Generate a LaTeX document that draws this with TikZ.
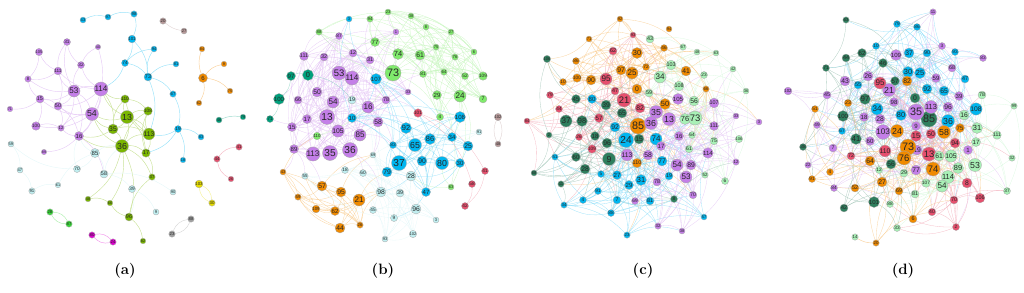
\documentclass[tikz,border=0pt]{standalone}
\usepackage{fontspec}
\setsansfont{Liberation Sans}
\usetikzlibrary{backgrounds}
\definecolor{pu}{HTML}{C47FE8}
\definecolor{li}{HTML}{7AB600}
\definecolor{bl}{HTML}{00B6F0}
\definecolor{or}{HTML}{F08A00}
\definecolor{tl}{HTML}{00A07C}
\definecolor{dg}{HTML}{2F7F5E}
\definecolor{lg}{HTML}{80EA6C}
\definecolor{pg}{HTML}{A8F0B6}
\definecolor{pc}{HTML}{C0EEF0}
\definecolor{rd}{HTML}{E6506E}
\definecolor{br}{HTML}{B89A9A}
\definecolor{ye}{HTML}{E6DC00}
\definecolor{gy}{HTML}{A0A0A0}
\definecolor{mg}{HTML}{DE00D0}
\definecolor{gr}{HTML}{36D636}
\tikzset{
  vx/.style={circle, draw=black!35, line width=0.3pt, inner sep=0pt, text=black!85},
  ed/.style={draw=#1!40, line width=0.45pt},
  edd/.style={draw=#1!50, line width=0.3pt, draw opacity=0.75},
  captxt/.style={font=\bfseries\fontsize{15}{15}\selectfont}
}
\newcount\hcnt
\newcommand\nd[7]{%
  \pgfmathsetmacro\fsz{1.35*#5}%
  \node[vx, fill=#7, minimum size={2*#5pt}, font=\sffamily\fontsize{\fsz}{\fsz}\selectfont] (#1#2) at (#3,#4) {#6};%
  \expandafter\xdef\csname X#1#2\endcsname{#3}%
  \expandafter\xdef\csname Y#1#2\endcsname{#4}%
  \expandafter\xdef\csname C#1#2\endcsname{#7}%
}
\newcommand\autoedges[6]{%
 \foreach \i in {1,...,#2}{%
  \foreach \j in {\i,...,#2}{%
   \ifnum\i<\j\relax
    \edef\hx{\the\numexpr \i*\i*13+\j*\j*7+\i*\j*11+\i*3+\j*5\relax}%
    \hcnt=\hx\relax \divide\hcnt by 61 \multiply\hcnt by 61
    \edef\hh{\the\numexpr\hx-\hcnt\relax}%
    \ifnum\hh<#4\relax
     \pgfmathsetmacro\dd{veclen(\csname X#1\i\endcsname-\csname X#1\j\endcsname,\csname Y#1\i\endcsname-\csname Y#1\j\endcsname)}%
     \edef\ca{\csname C#1\i\endcsname}\edef\cb{\csname C#1\j\endcsname}%
     \def\dodraw{0}%
     \ifx\ca\cb \ifdim\dd pt<#3pt \def\dodraw{1}\fi\fi
     \ifnum\hh<#6\relax \ifdim\dd pt<#5pt \def\dodraw{1}\fi\fi
     \if1\dodraw \draw[edd=\ca] (#1\i) to[bend left=20] (#1\j);\fi
    \fi
   \fi}}}
\begin{document}
\begin{tikzpicture}[x=1pt,y=-1pt]
\useasboundingbox (0,0) rectangle (1024,292);
% ================= panel (a)
\nd{a}{53}{74}{91}{6}{53}{pu}
\nd{a}{114}{101}{89}{6}{114}{pu}
\nd{a}{54}{92}{114}{6.5}{54}{pu}
\nd{a}{15}{40}{99}{4}{15}{pu}
\nd{a}{50}{58}{106}{4}{50}{pu}
\nd{a}{16}{79}{136}{4.5}{16}{pu}
\nd{a}{111}{58}{71}{3.5}{111}{pu}
\nd{a}{32}{81}{65}{3.5}{32}{pu}
\nd{a}{31}{67}{42}{3.5}{31}{pu}
\nd{a}{105}{39}{52}{3}{105}{pu}
\nd{a}{40}{98}{47}{2.7}{40}{pu}
\nd{a}{8}{28}{79}{3.2}{8}{pu}
\nd{a}{71}{10}{109}{2.8}{71}{pu}
\nd{a}{12}{61}{128}{3.2}{12}{pu}
\nd{a}{100}{36}{126}{3.5}{100}{pu}
\nd{a}{89}{44}{152}{2.7}{89}{pu}
\nd{a}{43}{83}{20}{3}{43}{bl}
\nd{a}{97}{108}{17}{3}{97}{bl}
\nd{a}{98}{134}{14}{3.2}{98}{bl}
\nd{a}{101}{132}{39}{3.2}{101}{bl}
\nd{a}{94}{154}{49}{3}{94}{bl}
\nd{a}{74}{125}{63}{3.5}{74}{bl}
\nd{a}{73}{148}{77}{4}{73}{bl}
\nd{a}{81}{176}{64}{3}{81}{bl}
\nd{a}{67}{173}{94}{3.2}{67}{bl}
\nd{a}{19}{178}{129}{3.5}{19}{bl}
\nd{a}{83}{201}{137}{3}{83}{bl}
\nd{a}{18}{183}{160}{2.8}{18}{bl}
\nd{a}{20}{163}{21}{3.2}{20}{br}
\nd{a}{27}{184}{31}{3}{27}{br}
\nd{a}{6}{203}{78}{4.5}{6}{or}
\nd{a}{84}{202}{49}{2.8}{84}{or}
\nd{a}{9}{224}{64}{2.8}{9}{or}
\nd{a}{75}{230}{91}{2.8}{75}{or}
\nd{a}{62}{199}{103}{2.8}{62}{or}
\nd{a}{46}{219}{120}{3}{46}{tl}
\nd{a}{79}{243}{117}{2.8}{79}{tl}
\nd{a}{41}{239}{147}{3.2}{41}{rd}
\nd{a}{44}{217}{159}{3.2}{44}{rd}
\nd{a}{26}{231}{179}{2.8}{26}{rd}
\nd{a}{103}{199}{184}{3.2}{103}{ye}
\nd{a}{30}{212}{203}{3.2}{30}{ye}
\nd{a}{88}{191}{219}{3.2}{88}{gy}
\nd{a}{23}{172}{234}{3.2}{23}{gy}
\nd{a}{28}{50}{212}{3.2}{28}{gr}
\nd{a}{87}{69}{224}{3.2}{87}{gr}
\nd{a}{80}{92}{235}{3.2}{80}{mg}
\nd{a}{24}{113}{242}{3.2}{24}{mg}
\nd{a}{13}{127}{117}{6.5}{13}{li}
\nd{a}{35}{113}{129}{5}{35}{li}
\nd{a}{36}{122}{146}{6.5}{36}{li}
\nd{a}{113}{149}{134}{5}{113}{li}
\nd{a}{17}{146}{153}{4.2}{17}{li}
\nd{a}{110}{125}{99}{3.5}{110}{li}
\nd{a}{108}{148}{111}{3.5}{108}{li}
\nd{a}{37}{152}{177}{3.2}{37}{li}
\nd{a}{48}{88}{199}{2.8}{48}{li}
\nd{a}{66}{110}{203}{2.8}{66}{li}
\nd{a}{96}{129}{217}{4}{96}{li}
\nd{a}{82}{143}{241}{2.8}{82}{li}
\nd{a}{85}{95}{153}{4.5}{85}{pc}
\nd{a}{58}{104}{174}{4}{58}{pc}
\nd{a}{70}{77}{169}{3.5}{70}{pc}
\nd{a}{59}{11}{144}{3}{59}{pc}
\nd{a}{47}{20}{170}{3}{47}{pc}
\nd{a}{91}{32}{191}{3.2}{91}{pc}
\nd{a}{61}{58}{185}{2.8}{61}{pc}
\nd{a}{39}{132}{189}{3.5}{39}{pc}
\nd{a}{90}{173}{192}{3}{90}{pc}
\nd{a}{9p}{156}{212}{3}{9}{pc}
\begin{scope}[on background layer]
\foreach \u/\v in {53/114,53/54,53/15,53/50,53/111,53/32,53/8,53/16,53/12,53/31,114/54,114/50,114/16,114/32,114/111,54/15,54/16,54/50,54/100,15/8,15/71,15/50,15/100,50/12,50/16,111/31,111/105,111/8,32/31,32/40,105/8,16/12,16/89,40/54,100/12,16/58,111/50,12/54}
  \draw[ed=pu] (a\u) to[bend left=20] (a\v);
\foreach \u/\v in {13/35,13/36,13/113,13/110,13/108,13/17,13/114,35/36,35/110,35/113,36/113,36/17,36/108,36/37,36/96,36/48,36/54,113/108,113/17,110/108,17/37,96/66,96/82,96/37,48/66,35/16,110/114,35/54,36/16,13/54,36/66,114/35,113/110,17/108}
  \draw[ed=li] (a\u) to[bend left=20] (a\v);
\foreach \u/\v in {43/97,97/98,98/101,101/73,74/94,74/73,73/94,73/81,73/67,67/19,19/83,19/18,19/113,73/113,74/114,19/17,101/74}
  \draw[ed=bl] (a\u) to[bend left=20] (a\v);
\foreach \u/\v in {6/84,6/9,6/75,6/62}
  \draw[ed=or] (a\u) to[bend left=20] (a\v);
\foreach \u/\v in {85/70,85/58,85/16,58/39,58/90,70/59,59/47,47/91,91/61,39/9p,85/36,39/96,58/36,70/16,61/85}
  \draw[ed=pc] (a\u) to[bend left=20] (a\v);
\draw[ed=tl] (a46) to[bend left=15] (a79);
\draw[ed=rd] (a41) to[bend right=25] (a44);
\draw[ed=rd] (a44) to[bend right=25] (a26);
\draw[ed=br] (a20) to[bend right=15] (a27);
\foreach \u/\v/\c in {88/23/gy,103/30/ye,28/87/gr,80/24/mg}{
  \draw[ed=\c] (a\u) to[bend left=30] (a\v);
  \draw[ed=\c] (a\u) to[bend right=30] (a\v);}
\end{scope}
% ================= panel (b)
\nd{b}{1}{339}{73}{7}{53}{pu}
\nd{b}{2}{352}{78}{6}{114}{pu}
\nd{b}{3}{333}{102}{6}{54}{pu}
\nd{b}{4}{327}{117}{7.5}{13}{pu}
\nd{b}{5}{330}{153}{7.5}{35}{pu}
\nd{b}{6}{350}{150}{7.5}{36}{pu}
\nd{b}{7}{313}{154}{6}{113}{pu}
\nd{b}{8}{360}{135}{6}{85}{pu}
\nd{b}{9}{338}{131}{5}{105}{pu}
\nd{b}{10}{368}{107}{6}{16}{pu}
\nd{b}{11}{378}{122}{5}{58}{pu}
\nd{b}{12}{317}{92}{5}{50}{pu}
\nd{b}{13}{307}{119}{4.5}{17}{pu}
\nd{b}{14}{292}{127}{4.5}{15}{pu}
\nd{b}{15}{294}{149}{4.5}{89}{pu}
\nd{b}{16}{298}{100}{4}{66}{pu}
\nd{b}{17}{304}{56}{4}{111}{pu}
\nd{b}{18}{324}{57}{4}{32}{pu}
\nd{b}{19}{353}{53}{4}{12}{pu}
\nd{b}{20}{370}{60}{4}{31}{pu}
\nd{b}{21}{339}{36}{3.5}{87}{pu}
\nd{b}{22}{386}{100}{4}{78}{pu}
\nd{b}{23}{408}{92}{3}{33}{pu}
\nd{b}{24}{396}{32}{3}{1}{pu}
\nd{b}{25}{291}{76}{4.5}{97}{tl}
\nd{b}{26}{308}{75}{5.5}{0}{tl}
\nd{b}{27}{279}{99}{4.5}{100}{tl}
\nd{b}{28}{270}{119}{3.5}{71}{tl}
\nd{b}{29}{322}{186}{5}{57}{or}
\nd{b}{30}{341}{192}{5}{95}{or}
\nd{b}{31}{359}{200}{6}{21}{or}
\nd{b}{32}{335}{211}{4.5}{62}{or}
\nd{b}{33}{340}{228}{5}{44}{or}
\nd{b}{34}{283}{172}{3}{43}{or}
\nd{b}{35}{298}{197}{3.2}{59}{or}
\nd{b}{36}{316}{209}{3.2}{109}{or}
\nd{b}{37}{360}{225}{3.2}{26}{or}
\nd{b}{38}{393}{73}{8}{73}{lg}
\nd{b}{39}{398}{54}{5.5}{74}{lg}
\nd{b}{40}{375}{42}{4.5}{77}{lg}
\nd{b}{41}{420}{55}{5}{61}{lg}
\nd{b}{42}{460}{96}{6}{24}{lg}
\nd{b}{43}{437}{95}{4.5}{29}{lg}
\nd{b}{44}{483}{99}{4}{7}{lg}
\nd{b}{45}{440}{117}{3.5}{4}{lg}
\nd{b}{46}{319}{32}{3.2}{88}{lg}
\nd{b}{47}{370}{19}{3.2}{94}{lg}
\nd{b}{48}{388}{12}{3}{23}{lg}
\nd{b}{49}{411}{16}{3}{38}{lg}
\nd{b}{50}{426}{27}{3}{8}{lg}
\nd{b}{51}{451}{32}{3}{27}{lg}
\nd{b}{52}{436}{47}{3}{75}{lg}
\nd{b}{53}{455}{57}{3.2}{76}{lg}
\nd{b}{54}{474}{52}{3}{6}{lg}
\nd{b}{55}{423}{74}{3.5}{81}{lg}
\nd{b}{56}{444}{72}{3.2}{64}{lg}
\nd{b}{57}{465}{76}{3.5}{52}{lg}
\nd{b}{58}{483}{76}{3.5}{109}{lg}
\nd{b}{59}{317}{136}{3.2}{110}{lg}
\nd{b}{60}{451}{187}{3}{63}{lg}
\nd{b}{61}{376}{79}{4.5}{107}{bl}
\nd{b}{62}{352}{118}{4.5}{10}{bl}
\nd{b}{63}{406}{128}{5.5}{92}{bl}
\nd{b}{64}{415}{145}{6.5}{65}{bl}
\nd{b}{65}{430}{139}{5.5}{86}{bl}
\nd{b}{66}{399}{163}{7.5}{37}{bl}
\nd{b}{67}{422}{161}{5}{90}{bl}
\nd{b}{68}{442}{163}{6.5}{80}{bl}
\nd{b}{69}{387}{172}{5}{79}{bl}
\nd{b}{70}{393}{145}{3.5}{83}{bl}
\nd{b}{71}{452}{137}{4.5}{34}{bl}
\nd{b}{72}{468}{146}{5}{25}{bl}
\nd{b}{73}{460}{163}{4.5}{30}{bl}
\nd{b}{74}{426}{192}{4.5}{47}{bl}
\nd{b}{75}{460}{117}{4.5}{108}{bl}
\nd{b}{76}{349}{19}{3}{3}{bl}
\nd{b}{77}{352}{100}{4}{19}{pc}
\nd{b}{78}{345}{170}{3.5}{18}{pc}
\nd{b}{79}{363}{173}{3.5}{60}{pc}
\nd{b}{80}{373}{155}{3}{69}{pc}
\nd{b}{81}{411}{176}{5}{28}{pc}
\nd{b}{82}{381}{192}{5}{98}{pc}
\nd{b}{83}{400}{193}{4}{39}{pc}
\nd{b}{84}{416}{209}{5}{96}{pc}
\nd{b}{85}{373}{210}{3.5}{45}{pc}
\nd{b}{86}{394}{218}{3.5}{9}{pc}
\nd{b}{87}{436}{220}{3}{3}{pc}
\nd{b}{88}{413}{234}{3}{102}{pc}
\nd{b}{89}{385}{239}{3}{93}{pc}
\nd{b}{90}{305}{176}{3.2}{55}{pc}
\nd{b}{91}{479}{132}{3}{91}{pc}
\nd{b}{92}{418}{113}{3.5}{101}{rd}
\nd{b}{93}{485}{171}{3.5}{41}{rd}
\nd{b}{94}{472}{184}{3.5}{58}{rd}
\nd{b}{95}{465}{206}{3.5}{42}{rd}
\nd{b}{96}{498}{117}{3}{102}{br}
\nd{b}{97}{498}{144}{3}{48}{br}
\begin{scope}[on background layer]
\autoedges{b}{95}{115}{36}{60}{7}
\draw[ed=br] (b96) to[bend left=25] (b97);
\draw[ed=br] (b96) to[bend right=25] (b97);
\end{scope}
% ================= panel (c)
\nd{c}{1}{638}{126}{8}{85}{or}
\nd{c}{2}{632}{73}{6}{25}{or}
\nd{c}{3}{621}{70}{5}{97}{or}
\nd{c}{4}{637}{53}{5.5}{30}{or}
\nd{c}{5}{637}{89}{5}{0}{or}
\nd{c}{6}{665}{104}{5.5}{50}{or}
\nd{c}{7}{686}{71}{5}{41}{or}
\nd{c}{8}{591}{80}{5}{90}{or}
\nd{c}{9}{577}{78}{3.5}{100}{or}
\nd{c}{10}{563}{82}{3.5}{10}{or}
\nd{c}{11}{576}{61}{3.5}{86}{or}
\nd{c}{12}{589}{39}{3}{71}{or}
\nd{c}{13}{620}{19}{3}{92}{or}
\nd{c}{14}{646}{67}{3.5}{72}{or}
\nd{c}{15}{664}{48}{3.5}{46}{or}
\nd{c}{16}{669}{29}{3}{94}{or}
\nd{c}{17}{706}{89}{3.2}{66}{or}
\nd{c}{18}{637}{163}{4}{110}{or}
\nd{c}{19}{606}{79}{6}{95}{rd}
\nd{c}{20}{624}{100}{7}{21}{rd}
\nd{c}{21}{615}{91}{4}{47}{rd}
\nd{c}{22}{640}{108}{5}{82}{rd}
\nd{c}{23}{599}{118}{4.5}{57}{rd}
\nd{c}{24}{613}{51}{4}{62}{rd}
\nd{c}{25}{633}{35}{3}{93}{rd}
\nd{c}{26}{550}{95}{3.5}{79}{rd}
\nd{c}{27}{559}{109}{3.5}{44}{rd}
\nd{c}{28}{579}{137}{3.5}{26}{rd}
\nd{c}{29}{592}{149}{3.5}{109}{rd}
\nd{c}{30}{527}{121}{3}{84}{rd}
\nd{c}{31}{566}{121}{6}{37}{dg}
\nd{c}{32}{582}{121}{5.5}{98}{dg}
\nd{c}{33}{576}{99}{4.5}{45}{dg}
\nd{c}{34}{606}{105}{5}{39}{dg}
\nd{c}{35}{622}{113}{5}{65}{dg}
\nd{c}{36}{595}{136}{4.5}{18}{dg}
\nd{c}{37}{607}{143}{5}{96}{dg}
\nd{c}{38}{639}{139}{5}{15}{dg}
\nd{c}{39}{609}{159}{6.5}{9}{dg}
\nd{c}{40}{576}{157}{4.5}{60}{dg}
\nd{c}{41}{585}{169}{5}{28}{dg}
\nd{c}{42}{549}{135}{3}{2}{dg}
\nd{c}{43}{547}{59}{3}{106}{dg}
\nd{c}{44}{534}{173}{3}{68}{dg}
\nd{c}{45}{561}{184}{3.2}{11}{dg}
\nd{c}{46}{674}{199}{3.5}{8}{dg}
\nd{c}{47}{592}{99}{4.5}{80}{bl}
\nd{c}{48}{615}{127}{5}{92}{bl}
\nd{c}{49}{626}{140}{7.5}{24}{bl}
\nd{c}{50}{656}{139}{6}{74}{bl}
\nd{c}{51}{662}{161}{5}{77}{bl}
\nd{c}{52}{641}{180}{5.5}{31}{bl}
\nd{c}{53}{629}{185}{4.5}{29}{bl}
\nd{c}{54}{617}{175}{4.5}{27}{bl}
\nd{c}{55}{601}{174}{3.5}{5}{bl}
\nd{c}{56}{669}{176}{4}{19}{bl}
\nd{c}{57}{650}{201}{4}{81}{bl}
\nd{c}{58}{617}{200}{4}{7}{bl}
\nd{c}{59}{598}{191}{3.5}{91}{bl}
\nd{c}{60}{583}{200}{3.5}{4}{bl}
\nd{c}{61}{611}{213}{3.5}{88}{bl}
\nd{c}{62}{564}{205}{3.2}{34}{bl}
\nd{c}{63}{627}{235}{3.2}{23}{bl}
\nd{c}{64}{704}{217}{3}{57}{bl}
\nd{c}{65}{555}{157}{3.2}{51}{bl}
\nd{c}{66}{656}{112}{6.5}{35}{pu}
\nd{c}{67}{651}{123}{6.5}{36}{pu}
\nd{c}{68}{669}{119}{6.5}{13}{pu}
\nd{c}{69}{678}{99}{4.5}{105}{pu}
\nd{c}{70}{679}{136}{4.5}{16}{pu}
\nd{c}{71}{661}{146}{4.5}{17}{pu}
\nd{c}{72}{627}{155}{5}{113}{pu}
\nd{c}{73}{648}{155}{5}{58}{pu}
\nd{c}{74}{677}{165}{6}{54}{pu}
\nd{c}{75}{691}{165}{5}{89}{pu}
\nd{c}{76}{686}{177}{6}{53}{pu}
\nd{c}{77}{657}{182}{4}{78}{pu}
\nd{c}{78}{635}{201}{3.5}{69}{pu}
\nd{c}{79}{693}{195}{3.8}{70}{pu}
\nd{c}{80}{714}{103}{4}{107}{pu}
\nd{c}{81}{714}{126}{4}{111}{pu}
\nd{c}{82}{708}{153}{4.5}{114}{pu}
\nd{c}{83}{736}{162}{3.2}{12}{pu}
\nd{c}{84}{736}{116}{3}{33}{pu}
\nd{c}{85}{759}{122}{3}{3}{pu}
\nd{c}{86}{658}{226}{3.2}{32}{pu}
\nd{c}{87}{682}{231}{3}{38}{pu}
\nd{c}{88}{695}{118}{7}{73}{pg}
\nd{c}{89}{685}{119}{5.5}{76}{pg}
\nd{c}{90}{660}{77}{6}{34}{pg}
\nd{c}{91}{694}{101}{5}{56}{pg}
\nd{c}{92}{649}{93}{4}{59}{pg}
\nd{c}{93}{679}{86}{4}{108}{pg}
\nd{c}{94}{671}{65}{4}{103}{pg}
\nd{c}{95}{650}{39}{4}{43}{pg}
\nd{c}{96}{683}{47}{3.2}{67}{pg}
\nd{c}{97}{697}{52}{3}{48}{pg}
\nd{c}{98}{716}{53}{3}{63}{pg}
\nd{c}{99}{733}{69}{3}{42}{pg}
\nd{c}{100}{704}{75}{3.5}{23}{pg}
\nd{c}{101}{746}{91}{3}{36}{pg}
\nd{c}{102}{739}{139}{3}{106}{pg}
\nd{c}{103}{692}{135}{3.5}{64}{pg}
\nd{c}{104}{714}{141}{3.8}{75}{pg}
\nd{c}{105}{689}{149}{3.8}{61}{pg}
\nd{c}{106}{705}{175}{3.2}{52}{pg}
\nd{c}{107}{725}{181}{3.5}{6}{pg}
\begin{scope}[on background layer]
\autoedges{c}{107}{100}{24}{80}{10}
\end{scope}
% ================= panel (d)
\nd{d}{1}{897}{24}{3.5}{79}{bl}
\nd{d}{2}{917}{27}{3.5}{86}{bl}
\nd{d}{3}{876}{46}{3.5}{10}{bl}
\nd{d}{4}{909}{53}{5}{37}{bl}
\nd{d}{5}{927}{53}{4}{90}{bl}
\nd{d}{6}{955}{52}{3.5}{93}{bl}
\nd{d}{7}{908}{72}{5.5}{30}{bl}
\nd{d}{8}{920}{73}{5.5}{25}{bl}
\nd{d}{9}{927}{89}{5}{92}{bl}
\nd{d}{10}{944}{91}{5}{65}{bl}
\nd{d}{11}{965}{79}{4}{47}{bl}
\nd{d}{12}{858}{85}{4}{55}{bl}
\nd{d}{13}{877}{109}{6}{34}{bl}
\nd{d}{14}{901}{115}{5.5}{80}{bl}
\nd{d}{15}{948}{121}{6.5}{36}{bl}
\nd{d}{16}{976}{109}{5}{108}{bl}
\nd{d}{17}{842}{131}{3.5}{67}{bl}
\nd{d}{18}{846}{20}{3.2}{63}{dg}
\nd{d}{19}{862}{53}{4.5}{62}{dg}
\nd{d}{20}{846}{58}{4}{44}{dg}
\nd{d}{21}{883}{63}{4.5}{46}{dg}
\nd{d}{22}{895}{81}{4.5}{57}{dg}
\nd{d}{23}{826}{68}{3.5}{71}{dg}
\nd{d}{24}{865}{99}{5.5}{97}{dg}
\nd{d}{25}{843}{116}{4.5}{100}{dg}
\nd{d}{26}{915}{98}{5}{0}{dg}
\nd{d}{27}{929}{119}{8}{85}{dg}
\nd{d}{28}{856}{139}{5.5}{41}{dg}
\nd{d}{29}{891}{164}{5}{56}{dg}
\nd{d}{30}{803}{147}{3.5}{38}{dg}
\nd{d}{31}{844}{208}{4}{42}{dg}
\nd{d}{32}{874}{202}{4.5}{101}{dg}
\nd{d}{33}{889}{90}{6.5}{21}{pu}
\nd{d}{34}{868}{76}{5}{26}{pu}
\nd{d}{35}{845}{81}{5}{43}{pu}
\nd{d}{36}{827}{95}{4}{45}{pu}
\nd{d}{37}{788}{91}{3.2}{102}{pu}
\nd{d}{38}{896}{55}{4.5}{109}{pu}
\nd{d}{39}{894}{102}{4.5}{98}{pu}
\nd{d}{40}{864}{117}{4.5}{18}{pu}
\nd{d}{41}{880}{119}{5}{28}{pu}
\nd{d}{42}{916}{112}{8}{35}{pu}
\nd{d}{43}{931}{107}{5.5}{113}{pu}
\nd{d}{44}{916}{126}{4.5}{9}{pu}
\nd{d}{45}{948}{107}{5}{96}{pu}
\nd{d}{46}{936}{78}{4.5}{59}{pu}
\nd{d}{47}{942}{46}{3.5}{3}{pu}
\nd{d}{48}{952}{68}{4}{68}{pu}
\nd{d}{49}{933}{12}{3.2}{11}{pu}
\nd{d}{50}{983}{58}{3.5}{83}{pu}
\nd{d}{51}{959}{96}{4.5}{39}{pu}
\nd{d}{52}{883}{132}{6}{103}{pu}
\nd{d}{53}{870}{141}{4.5}{60}{pu}
\nd{d}{54}{917}{150}{5}{19}{pu}
\nd{d}{55}{916}{170}{5}{77}{pu}
\nd{d}{56}{968}{150}{4.5}{1}{pu}
\nd{d}{57}{833}{148}{4}{7}{pu}
\nd{d}{58}{817}{125}{3.5}{49}{pu}
\nd{d}{59}{808}{165}{3.2}{22}{pu}
\nd{d}{60}{834}{188}{3.5}{84}{pu}
\nd{d}{61}{907}{81}{5}{82}{or}
\nd{d}{62}{848}{103}{3.8}{23}{or}
\nd{d}{63}{897}{131}{6.5}{24}{or}
\nd{d}{64}{944}{132}{6.5}{58}{or}
\nd{d}{65}{960}{128}{4.5}{75}{or}
\nd{d}{66}{908}{147}{8}{73}{or}
\nd{d}{67}{904}{158}{7}{76}{or}
\nd{d}{68}{933}{169}{7}{74}{or}
\nd{d}{69}{870}{161}{5}{64}{or}
\nd{d}{70}{882}{182}{5}{27}{or}
\nd{d}{71}{899}{191}{4}{69}{or}
\nd{d}{72}{855}{188}{4}{52}{or}
\nd{d}{73}{830}{172}{3.5}{4}{or}
\nd{d}{74}{812}{179}{3.5}{91}{or}
\nd{d}{75}{815}{109}{3.5}{51}{or}
\nd{d}{76}{913}{219}{4}{6}{or}
\nd{d}{77}{876}{243}{3.2}{20}{or}
\nd{d}{78}{880}{83}{6}{95}{rd}
\nd{d}{79}{916}{136}{5.5}{15}{rd}
\nd{d}{80}{931}{134}{5}{50}{rd}
\nd{d}{81}{885}{151}{5}{110}{rd}
\nd{d}{82}{929}{154}{7}{13}{rd}
\nd{d}{83}{955}{143}{5}{94}{rd}
\nd{d}{84}{851}{156}{4}{72}{rd}
\nd{d}{85}{967}{183}{5}{8}{rd}
\nd{d}{86}{954}{200}{4}{70}{rd}
\nd{d}{87}{980}{198}{4}{106}{rd}
\nd{d}{88}{932}{212}{3.8}{40}{rd}
\nd{d}{89}{956}{227}{3.5}{2}{rd}
\nd{d}{90}{964}{115}{5}{16}{pg}
\nd{d}{91}{977}{128}{5.5}{31}{pg}
\nd{d}{92}{982}{95}{4}{78}{pg}
\nd{d}{93}{1014}{106}{3.2}{99}{pg}
\nd{d}{94}{997}{135}{3.8}{111}{pg}
\nd{d}{95}{976}{142}{4.5}{17}{pg}
\nd{d}{96}{939}{156}{5}{61}{pg}
\nd{d}{97}{951}{156}{5}{105}{pg}
\nd{d}{98}{975}{165}{6.5}{53}{pg}
\nd{d}{99}{958}{168}{5.5}{89}{pg}
\nd{d}{100}{948}{177}{5.5}{114}{pg}
\nd{d}{101}{942}{186}{6}{54}{pg}
\nd{d}{102}{1012}{158}{3.2}{32}{pg}
\nd{d}{103}{1007}{191}{3.5}{37}{pg}
\nd{d}{104}{879}{170}{3.5}{12}{pg}
\nd{d}{105}{904}{173}{4}{29}{pg}
\nd{d}{106}{926}{183}{3.5}{107}{pg}
\nd{d}{107}{915}{194}{4}{81}{pg}
\nd{d}{108}{890}{204}{3.5}{88}{pg}
\nd{d}{109}{897}{228}{3.5}{33}{pg}
\nd{d}{110}{855}{237}{3.2}{14}{pg}
\begin{scope}[on background layer]
\autoedges{d}{109}{100}{24}{80}{10}
\draw[ed=or] (d110) to[bend right=15] (d77);
\end{scope}
% ================= captions
\node[captxt] (capa) at (125,271) {(a)};
\node[captxt] (capb) at (383,271) {(b)};
\node[captxt] (capc) at (643,271) {(c)};
\node[captxt] (capd) at (903,271) {(d)};
\end{tikzpicture}
\end{document}
